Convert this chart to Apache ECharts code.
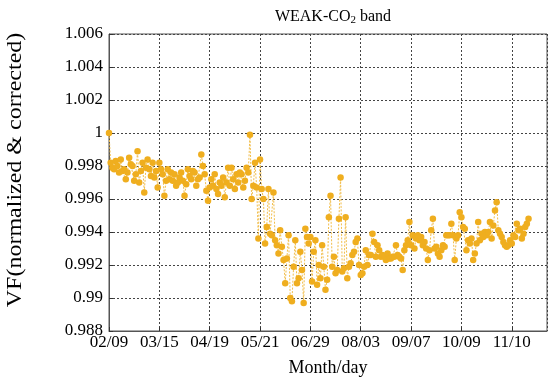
<!DOCTYPE html>
<html><head><meta charset="utf-8">
<script src="https://cdn.jsdelivr.net/npm/echarts@6/dist/echarts.min.js"></script>
<style>html,body{margin:0;padding:0;background:#fff}#c{width:549px;height:382px}</style>
</head><body><div id="c"></div>
<script>
var dateLabels = ['02/09','03/15','04/19','05/21','06/29','08/03','09/07','10/09','11/10'];
var pointsPerTick = 30;
var segFebMay = [1.0000,0.9982,0.9979,0.9978,0.9983,0.9980,0.9976,0.9984,0.9977,0.9978,
0.9972,0.9976,0.9985,0.9981,0.9980,0.9971,0.9975,0.9989,0.9970,0.9977,
0.9982,0.9964,0.9979,0.9984,0.9978,0.9974,0.9982,0.9973,0.9977,0.9967,
0.9982,0.9978,0.9975,0.9962,0.9971,0.9978,0.9972,0.9976,0.9971,0.9975,
0.9968,0.9970,0.9973,0.9976,0.9971,0.9962,0.9969,0.9978,0.9974,0.9972,
0.9977,0.9976,0.9968,0.9972,0.9973,0.9987,0.9980,0.9975,0.9965,0.9959,
0.9967,0.9972,0.9968,0.9975,0.9966,0.9963,0.9970,0.9968,0.9973,0.9961,
0.9970,0.9979,0.9968,0.9979,0.9972,0.9966,0.9975,0.9970,0.9976,0.9975,
0.9967,0.9971,0.9979,0.9976,0.9999,0.9960,0.9968];
var segMayAug = [0.9982,0.9967,0.9936,0.9984,0.9966,0.9960,0.9933,0.9943,0.9966,0.9939,
0.9938,0.9964,0.9935,0.9932,0.9927,0.9941,0.9931,0.9923,0.9909,0.9924,
0.9938,0.9900,0.9898,0.9919,0.9935,0.9909,0.9912,0.9928,0.9917,0.9897,
0.9942,0.9937,0.9933,0.9937,0.9910,0.9928,0.9935,0.9908,0.9920,0.9912,
0.9932,0.9919,0.9905,0.9911,0.9949,0.9962,0.9919,0.9925,0.9915,0.9917,
0.9948,0.9973,0.9916,0.9918,0.9949,0.9912,0.9919,0.9921,0.9926,0.9928,
0.9934,0.9936,0.9920,0.9914,0.9915,0.9919,0.9929,0.9920,0.9926,0.9926,
0.9939,0.9934,0.9925,0.9932,0.9929,0.9925,0.9926,0.9925,0.9923,0.9927,0.9924];
var segAugNov = [0.9924,0.9925,0.9925,0.9932,0.9926,0.9925,0.9924,0.9917,0.9929,0.9932,
0.9935,0.9946,0.9932,0.9938,0.9930,0.9936,0.9938,0.9935,0.9937,0.9932,
0.9934,0.9930,0.9923,0.9929,0.9941,0.9948,0.9930,0.9931,0.9927,0.9925,
0.9929,0.9932,0.9931,0.9938,0.9938,0.9938,0.9945,0.9938,0.9923,0.9936,
0.9938,0.9952,0.9949,0.9943,0.9942,0.9929,0.9935,0.9933,0.9936,0.9923,
0.9927,0.9933,0.9946,0.9935,0.9939,0.9937,0.9940,0.9938,0.9940,0.9946,
0.9936,0.9944,0.9953,0.9958,0.9941,0.9939,0.9937,0.9934,0.9932,0.9931,
0.9932,0.9935,0.9933,0.9938,0.9937,0.9945,0.9941,0.9942,0.9936,0.9939,
0.9943,0.9945,0.9948];

var vf = segFebMay.concat(segMayAug, segAugNov);
var data = vf.map(function(v,i){return [i,v];});
var font = '"Liberation Serif","Times New Roman",serif';
var gridColor = '#444';
var chart = echarts.init(document.getElementById('c'), null, {renderer:'canvas'});
chart.setOption({
  animation:false,
  backgroundColor:'#fff',
  title:{
    text:'{a|WEAK-CO}{b|2}{a| band}',
    left:328, textAlign:'center', top:3,
    textStyle:{rich:{
      a:{fontFamily:font,fontSize:16,fontWeight:'normal',color:'#000'},
      b:{fontFamily:font,fontSize:11,fontWeight:'normal',color:'#000',padding:[7,0,0,0]}
    }}
  },
  graphic:[{
    type:'text', x:16, y:170, rotation:Math.PI/2, scaleX:1.2, scaleY:1,
    style:{text:'VF(normalized & corrected)', fontFamily:font, fontSize:20, fill:'#000',
      textAlign:'center', textVerticalAlign:'middle'}
  }],
  grid:{left:109,right:2,top:34,bottom:50,show:true,borderColor:'#555',borderWidth:1},
  xAxis:{
    type:'value', min:0, max:261, interval:pointsPerTick,
    name:'Month/day', nameLocation:'middle', nameGap:28,
    nameTextStyle:{fontFamily:font,fontSize:18,color:'#000'},
    axisLine:{show:true,lineStyle:{color:'#555'}},
    axisTick:{show:true,inside:true,length:4,lineStyle:{color:'#333'}},
    axisLabel:{fontFamily:font,fontSize:17,color:'#000',margin:3,showMaxLabel:false,
      formatter:function(v){var k=v/pointsPerTick;return (Math.abs(k-Math.round(k))<1e-6 && dateLabels[Math.round(k)])?dateLabels[Math.round(k)]:'';}},
    splitLine:{show:true,lineStyle:{color:gridColor,type:[2,2],width:1}}
  },
  yAxis:{
    type:'value', min:0.988, max:1.006, interval:0.002,
    axisLine:{show:true,lineStyle:{color:'#555'}},
    axisTick:{show:true,inside:true,length:4,lineStyle:{color:'#333'}},
    axisLabel:{fontFamily:font,fontSize:17,color:'#000',margin:6},
    splitLine:{show:true,lineStyle:{color:gridColor,type:[2,2],width:1}}
  },
  series:[{
    type:'line', data:data,
    symbol:'circle', symbolSize:6.5, showSymbol:true,
    itemStyle:{color:'#EFAE1F'},
    lineStyle:{color:'#F2BE4A',width:1,type:[2,1.5]},
    z:3
  }]
});
</script></body></html>
